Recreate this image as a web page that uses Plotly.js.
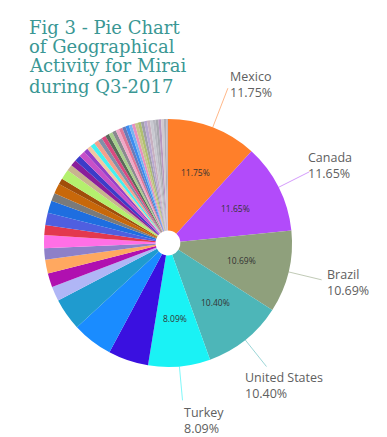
<!DOCTYPE html>
<html>
<head>
<meta charset="utf-8">
<script src="https://cdn.plot.ly/plotly-3.0.1.min.js"></script>
<style>
  html, body { margin: 0; padding: 0; background: #ffffff; }
  #chart { width: 387px; height: 437px; }
</style>
</head>
<body>
<div id="chart"></div>
<script>
// ---- Data (percent share of Mirai activity, Q3-2017) ----
const countries = ["Mexico", "Canada", "Brazil", "United States", "Turkey"];
const countryValues = [11.75, 11.65, 10.69, 10.40, 8.09];

// remaining unlabeled countries (clockwise order after Turkey)
const otherValues = [
  5.25, 5.30, 4.20,
  1.90, 1.80, 1.80, 1.50, 1.70, 1.30, 1.60,
  1.60, 1.05, 1.30, 0.80, 1.30, 0.80, 0.80, 0.80, 0.80, 0.55, 0.55, 0.60,
  0.60, 0.55, 0.55, 0.50, 0.50, 0.50, 0.45, 0.45, 0.45, 0.45, 0.40, 0.40,
  0.40, 0.40, 0.40, 0.40, 0.38, 0.38, 0.36, 0.36, 0.35, 0.35, 0.30, 0.24
];
const otherLabels = otherValues.map((v, i) => "Other " + (i + 1));

const mainColors = ["#FF7F2A", "#B24BFA", "#8FA07C", "#4DB6B8", "#1AF2F5"];
const otherColors = [
  "#3A10E0", "#1A8CFF", "#1F9BCF",
  "#B0B6F6", "#B010B0", "#FFA860", "#8E80C8", "#FF6FE6", "#E3384E", "#4F5FE0",
  "#1E6EE0", "#7A7A7A", "#C8680A", "#A04E0A", "#B4F06E", "#C8B48E", "#8A1E9A", "#3C3CC8", "#C850C8", "#9640C8", "#F2C8A2", "#44F0F0",
  "#F4A08C", "#8090A8", "#D84A80", "#5A6A5A", "#A8D08C", "#8A8A90", "#F0A8C8", "#E07898", "#6A7AB8", "#3C8CF0", "#78B4F0", "#E890C0",
  "#C8C48C", "#B0C070", "#A0A0A8", "#B8A8D0", "#C8B0C0", "#C8C8D0", "#B8B8C0", "#A8A8B0", "#B898C0", "#D0C8D0", "#B0B0B8", "#C0B8C0"
];

const titleLines = ["Fig 3 - Pie Chart", "of Geographical", "Activity for Mirai", "during Q3-2017"];

// ---- Build trace ----
const labels = countries.concat(otherLabels);
const values = countryValues.concat(otherValues);
const colors = mainColors.concat(otherColors);

const W = 387, H = 437;
const CX = 168, CY = 243, R = 124;   // pie centre / radius in px
const domainX = [(CX - R) / W, (CX + R) / W];
const domainY = [(H - CY - R) / H, (H - CY + R) / H];

const trace = {
  type: "pie",
  labels: labels,
  values: values,
  sort: false,
  direction: "clockwise",
  rotation: 0,
  hole: 0.1,
  domain: { x: domainX, y: domainY },
  marker: { colors: colors, line: { width: 0 } },
  textinfo: "none",
  hoverinfo: "label+percent",
  showlegend: false
};

// ---- Slice labels (inside percent + outside name/percent with radial leader lines) ----
const total = values.reduce((a, b) => a + b, 0);
const labelStyle = [
  { len: 42, xanchor: "left", yanchor: "middle", xs: 0, ys: 4 },
  { len: 34, xanchor: "left", yanchor: "middle", xs: -3, ys: 6 },
  { len: 34, xanchor: "left", yanchor: "middle", xs: 3, ys: -3 },
  { len: 34, xanchor: "left", yanchor: "top", xs: -23, ys: 0 },
  { len: 34, xanchor: "left", yanchor: "top", xs: -1, ys: -2 }
];
const INNER_R = 76;
const shapes = [];
const annotations = [];
let cum = 0;
countries.forEach((name, i) => {
  const v = countryValues[i];
  const mid = (cum + v / 2) / total * 2 * Math.PI;
  cum += v;
  const pct = (v / total * 100).toFixed(2) + "%";
  const s = labelStyle[i];
  const x0 = CX + R * Math.sin(mid), y0 = CY - R * Math.cos(mid);
  const x1 = CX + (R + s.len) * Math.sin(mid), y1 = CY - (R + s.len) * Math.cos(mid);
  shapes.push({
    type: "line", xref: "paper", yref: "paper",
    x0: x0 / W, y0: 1 - y0 / H, x1: x1 / W, y1: 1 - y1 / H,
    line: { color: mainColors[i], width: 1 }, opacity: 0.55
  });
  annotations.push({
    xref: "paper", yref: "paper", x: x1 / W, y: 1 - y1 / H,
    xanchor: s.xanchor, yanchor: s.yanchor, xshift: s.xs, yshift: s.ys,
    align: "left", showarrow: false,
    text: name + "<br>" + pct,
    font: { family: "Open Sans, sans-serif", size: 12.5, color: "#606060" }
  });
  const xi = CX + INNER_R * Math.sin(mid), yi = CY - INNER_R * Math.cos(mid);
  annotations.push({
    xref: "paper", yref: "paper", x: xi / W, y: 1 - yi / H,
    xanchor: "center", yanchor: "middle", showarrow: false,
    text: pct,
    font: { family: "Open Sans, sans-serif", size: 8.5, color: "#333333" }
  });
});

// ---- Title (four lines, tight leading as in the figure) ----
const titleCentres = [27, 47, 66, 86];
titleLines.forEach((t, i) => {
  annotations.push({
    xref: "paper", yref: "paper", x: 27 / W, y: 1 - titleCentres[i] / H,
    xanchor: "left", yanchor: "middle", showarrow: false,
    text: t,
    font: { family: "DejaVu Serif, serif", size: 18, color: "#3A9794" }
  });
});

const layout = {
  width: W, height: H,
  margin: { l: 0, r: 0, t: 0, b: 0 },
  paper_bgcolor: "#ffffff",
  plot_bgcolor: "#ffffff",
  showlegend: false,
  shapes: shapes,
  annotations: annotations
};

Plotly.newPlot("chart", [trace], layout, { displayModeBar: false, staticPlot: true });
</script>
</body>
</html>
